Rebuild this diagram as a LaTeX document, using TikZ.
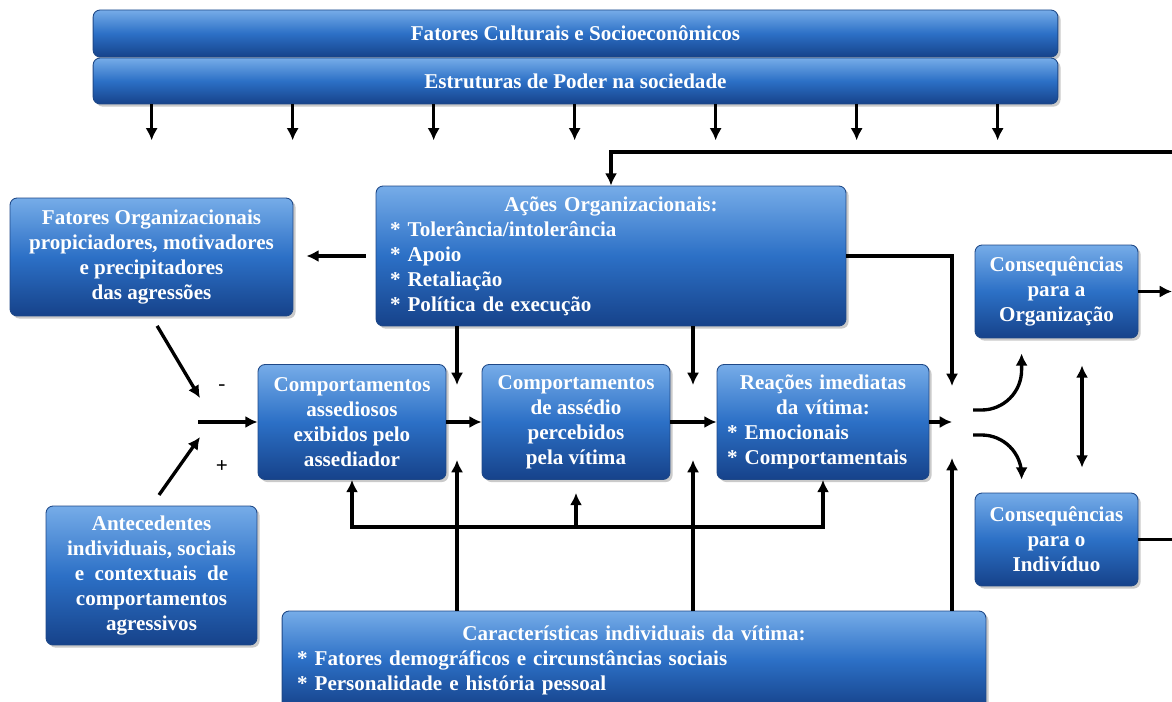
\documentclass[tikz,border=0pt]{standalone}
\usepackage{fontspec}
\setmainfont{Liberation Serif}
\usetikzlibrary{positioning,arrows.meta,calc,shadows}

\definecolor{boxtop}{RGB}{118,172,232}
\definecolor{boxmid}{RGB}{44,112,198}
\definecolor{boxbot}{RGB}{22,66,138}
\definecolor{boxedge}{RGB}{30,72,135}

\hyphenpenalty=10000
\newcommand{\boxtitle}[1]{\mbox{}\hfill #1\hfill\mbox{}}

\tikzset{
  >={Latex[length=7pt,width=7pt]},
  blkbox/.style={draw=boxedge, line width=0.5pt, rounded corners=4pt,
    top color=boxtop, bottom color=boxbot, middle color=boxmid,
    text=white, font=\fontsize{12}{14.2}\selectfont\bfseries, align=center,
    drop shadow={shadow xshift=1.5pt, shadow yshift=-1.5pt, opacity=0.35, fill=black!60}},
  flow/.style={line width=1.9pt, ->},
}

\begin{document}
\begin{tikzpicture}[x=0.02cm, y=-0.02cm]
    \useasboundingbox (0,0) rectangle (1172,702);
    \clip (0,0) rectangle (1172,702);

    %coordinates
    \coordinate (Cult)   at (575.5,33.5);
    \coordinate (Poder)  at (575.5,81);
    \coordinate (FatOrg) at (151.5,257);
    \coordinate (AcOrg)  at (611,256);
    \coordinate (CompA)  at (352,422);
    \coordinate (CompP)  at (576,422);
    \coordinate (Reac)   at (823,422);
    \coordinate (ConO)   at (1056.5,291.5);
    \coordinate (ConI)   at (1056.5,539.5);
    \coordinate (Antec)  at (151.5,575.5);
    \coordinate (Carac)  at (634,660);

    \coordinate (jL)  at (198,422);
    \coordinate (jLm) at (200,398);
    \coordinate (jLp) at (200,437);
    \coordinate (j1)  at (457,422);
    \coordinate (j2)  at (693,422);
    \coordinate (jR)  at (952,422);
    \coordinate (cuA) at (973,410);
    \coordinate (cuB) at (973,435);
    \coordinate (fbTop) at (1172,152);
    \coordinate (fbBot) at (576,527);
    \coordinate (rEdge) at (1172,0);

    %nodes
    \node[blkbox, minimum width=19.3cm, minimum height=0.94cm] (cult) at (Cult) {Fatores Culturais e Socioeconômicos};
    \node[blkbox, minimum width=19.3cm, minimum height=0.92cm] (poder) at (Poder) {Estruturas de Poder na sociedade};
    \node[blkbox, minimum width=5.66cm, minimum height=2.36cm] (fatorg) at (FatOrg) {Fatores Organizacionais\\propiciadores, motivadores\\e precipitadores\\das agressões};
    \node[blkbox, minimum width=9.4cm, minimum height=2.8cm, text width=8.84cm, align=left] (acoes) at (AcOrg) {\boxtitle{Ações Organizacionais:}\\{*} Tolerância/intolerância\\{*} Apoio\\{*} Retaliação\\{*} Política de execução};
    \node[blkbox, minimum width=3.76cm, minimum height=2.3cm] (compa) at (CompA) {Comportamentos\\assediosos\\exibidos pelo\\assediador};
    \node[blkbox, minimum width=3.76cm, minimum height=2.3cm] (compp) at (CompP) {Comportamentos\\de assédio\\percebidos\\pela vítima};
    \node[blkbox, minimum width=4.24cm, minimum height=2.3cm, text width=3.84cm, align=left] (reac) at (Reac) {\boxtitle{Reações imediatas}\\\boxtitle{da vítima:}\\{*} Emocionais\\{*} Comportamentais};
    \node[blkbox, minimum width=3.26cm, minimum height=1.86cm] (cono) at (ConO) {Consequências\\para a\\Organização};
    \node[blkbox, minimum width=3.26cm, minimum height=1.86cm] (coni) at (ConI) {Consequências\\para o\\Indivíduo};
    \node[blkbox, minimum width=4.22cm, minimum height=2.78cm] (antec) at (Antec) {Antecedentes\\individuais, sociais\\e\ \ contextuais\ \ de\\comportamentos\\agressivos};
    \node[blkbox, minimum width=14.08cm, minimum height=1.96cm, text width=13.48cm, align=left] (carac) at (Carac) {\boxtitle{Características individuais da vítima:}\\{*} Fatores demográficos e circunstâncias sociais\\{*} Personalidade e história pessoal};

    \node[font=\fontsize{12}{14}\selectfont] (minus) at (222,388) {-};
    \node[font=\fontsize{12}{14}\selectfont\bfseries] (plus) at (222,467) {+};

    %edges
    \foreach \i in {0,...,6}
        \draw[flow] ($(poder.south west)+(59+141*\i,0)$) -- ++(0,36);

    \draw[flow] (fbTop) -| (acoes.north);
    \draw[flow, shorten <=0.2cm, shorten >=0.26cm] (acoes.west) -- (fatorg.east |- acoes.west);
    \draw[flow, shorten >=0.72cm] (acoes.east) -| (jR);
    \draw[flow, shorten >=0.74cm] (acoes.south -| j1) -- (j1);
    \draw[flow, shorten >=0.74cm] (acoes.south -| j2) -- (j2);

    \draw[flow, shorten <=0.22cm] (fatorg.south) -- (jLm);
    \draw[flow, shorten <=0.26cm] (antec.north) -- (jLp);
    \draw[flow] (jL) -- (compa.west);

    \draw[flow] (compa) -- (compp);
    \draw[flow] (compp) -- (reac);
    \draw[flow] (reac.east) -- (jR);

    \draw[flow, shorten >=0.76cm] (carac.north -| j1) -- (j1);
    \draw[flow, shorten >=0.76cm] (carac.north -| j2) -- (j2);
    \draw[flow, shorten >=0.72cm] (carac.north -| jR) -- (jR);

    \draw[flow] (fbBot) -| (compa.south);
    \draw[flow] (fbBot) -| (reac.south);
    \draw[flow, shorten >=0.26cm] (fbBot) -- (compp.south);

    \draw[flow, rounded corners=0.8cm] (cuA) -| ($(cono.south west)+(47,15)$);
    \draw[flow, rounded corners=0.8cm] (cuB) -| ($(coni.north west)+(47,-13)$);
    \draw[flow, <->] ($(cono.south)+(25.5,27)$) -- ($(coni.north)+(25.5,-25)$);

    \draw[flow] (cono.east) -- (cono.east -| rEdge);
    \draw[line width=1.9pt] (coni.east) -- (coni.east -| rEdge);
\end{tikzpicture}
\end{document}
